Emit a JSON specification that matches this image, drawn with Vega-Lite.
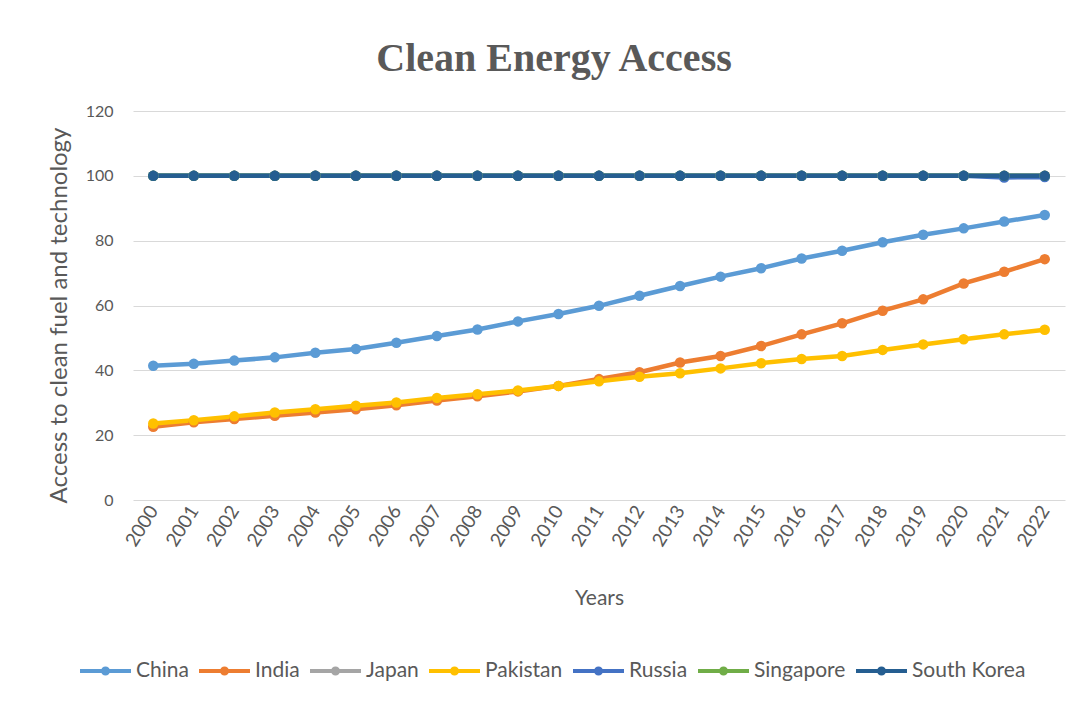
{
  "$schema": "https://vega.github.io/schema/vega-lite/v6.json",
  "width": 932,
  "height": 389,
  "autosize": {"type": "none"},
  "padding": {"left": 133, "top": 111, "right": 27, "bottom": 204},
  "background": "white",
  "title": {"text": "Clean Energy Access", "font": "Liberation Serif", "fontSize": 40, "fontWeight": "bold", "color": "#595959", "anchor": "middle", "dx": -45, "offset": 24},
  "datasets": {
    "d": [
      {"year": "2000", "country": "China", "value": 41.4}, {"year": "2001", "country": "China", "value": 42}, {"year": "2002", "country": "China", "value": 43}, {"year": "2003", "country": "China", "value": 44}, {"year": "2004", "country": "China", "value": 45.4}, {"year": "2005", "country": "China", "value": 46.6}, {"year": "2006", "country": "China", "value": 48.5}, {"year": "2007", "country": "China", "value": 50.6}, {"year": "2008", "country": "China", "value": 52.6}, {"year": "2009", "country": "China", "value": 55.1}, {"year": "2010", "country": "China", "value": 57.4}, {"year": "2011", "country": "China", "value": 59.9}, {"year": "2012", "country": "China", "value": 63}, {"year": "2013", "country": "China", "value": 66}, {"year": "2014", "country": "China", "value": 68.9}, {"year": "2015", "country": "China", "value": 71.5}, {"year": "2016", "country": "China", "value": 74.5}, {"year": "2017", "country": "China", "value": 76.9}, {"year": "2018", "country": "China", "value": 79.5}, {"year": "2019", "country": "China", "value": 81.8}, {"year": "2020", "country": "China", "value": 83.8}, {"year": "2021", "country": "China", "value": 85.9}, {"year": "2022", "country": "China", "value": 87.9},
      {"year": "2000", "country": "India", "value": 22.6}, {"year": "2001", "country": "India", "value": 24}, {"year": "2002", "country": "India", "value": 25}, {"year": "2003", "country": "India", "value": 26}, {"year": "2004", "country": "India", "value": 27}, {"year": "2005", "country": "India", "value": 28}, {"year": "2006", "country": "India", "value": 29.2}, {"year": "2007", "country": "India", "value": 30.7}, {"year": "2008", "country": "India", "value": 32}, {"year": "2009", "country": "India", "value": 33.5}, {"year": "2010", "country": "India", "value": 35.2}, {"year": "2011", "country": "India", "value": 37.3}, {"year": "2012", "country": "India", "value": 39.4}, {"year": "2013", "country": "India", "value": 42.4}, {"year": "2014", "country": "India", "value": 44.4}, {"year": "2015", "country": "India", "value": 47.5}, {"year": "2016", "country": "India", "value": 51.1}, {"year": "2017", "country": "India", "value": 54.5}, {"year": "2018", "country": "India", "value": 58.4}, {"year": "2019", "country": "India", "value": 61.9}, {"year": "2020", "country": "India", "value": 66.8}, {"year": "2021", "country": "India", "value": 70.4}, {"year": "2022", "country": "India", "value": 74.3},
      {"year": "2000", "country": "Japan", "value": 100}, {"year": "2001", "country": "Japan", "value": 100}, {"year": "2002", "country": "Japan", "value": 100}, {"year": "2003", "country": "Japan", "value": 100}, {"year": "2004", "country": "Japan", "value": 100}, {"year": "2005", "country": "Japan", "value": 100}, {"year": "2006", "country": "Japan", "value": 100}, {"year": "2007", "country": "Japan", "value": 100}, {"year": "2008", "country": "Japan", "value": 100}, {"year": "2009", "country": "Japan", "value": 100}, {"year": "2010", "country": "Japan", "value": 100}, {"year": "2011", "country": "Japan", "value": 100}, {"year": "2012", "country": "Japan", "value": 100}, {"year": "2013", "country": "Japan", "value": 100}, {"year": "2014", "country": "Japan", "value": 100}, {"year": "2015", "country": "Japan", "value": 100}, {"year": "2016", "country": "Japan", "value": 100}, {"year": "2017", "country": "Japan", "value": 100}, {"year": "2018", "country": "Japan", "value": 100}, {"year": "2019", "country": "Japan", "value": 100}, {"year": "2020", "country": "Japan", "value": 100}, {"year": "2021", "country": "Japan", "value": 100}, {"year": "2022", "country": "Japan", "value": 100},
      {"year": "2000", "country": "Pakistan", "value": 23.6}, {"year": "2001", "country": "Pakistan", "value": 24.6}, {"year": "2002", "country": "Pakistan", "value": 25.8}, {"year": "2003", "country": "Pakistan", "value": 27}, {"year": "2004", "country": "Pakistan", "value": 28}, {"year": "2005", "country": "Pakistan", "value": 29.1}, {"year": "2006", "country": "Pakistan", "value": 30.1}, {"year": "2007", "country": "Pakistan", "value": 31.5}, {"year": "2008", "country": "Pakistan", "value": 32.6}, {"year": "2009", "country": "Pakistan", "value": 33.8}, {"year": "2010", "country": "Pakistan", "value": 35.2}, {"year": "2011", "country": "Pakistan", "value": 36.6}, {"year": "2012", "country": "Pakistan", "value": 38}, {"year": "2013", "country": "Pakistan", "value": 39.1}, {"year": "2014", "country": "Pakistan", "value": 40.6}, {"year": "2015", "country": "Pakistan", "value": 42.2}, {"year": "2016", "country": "Pakistan", "value": 43.5}, {"year": "2017", "country": "Pakistan", "value": 44.4}, {"year": "2018", "country": "Pakistan", "value": 46.3}, {"year": "2019", "country": "Pakistan", "value": 48}, {"year": "2020", "country": "Pakistan", "value": 49.6}, {"year": "2021", "country": "Pakistan", "value": 51.1}, {"year": "2022", "country": "Pakistan", "value": 52.5},
      {"year": "2000", "country": "Russia", "value": 100}, {"year": "2001", "country": "Russia", "value": 100}, {"year": "2002", "country": "Russia", "value": 100}, {"year": "2003", "country": "Russia", "value": 100}, {"year": "2004", "country": "Russia", "value": 100}, {"year": "2005", "country": "Russia", "value": 100}, {"year": "2006", "country": "Russia", "value": 100}, {"year": "2007", "country": "Russia", "value": 100}, {"year": "2008", "country": "Russia", "value": 100}, {"year": "2009", "country": "Russia", "value": 100}, {"year": "2010", "country": "Russia", "value": 100}, {"year": "2011", "country": "Russia", "value": 100}, {"year": "2012", "country": "Russia", "value": 100}, {"year": "2013", "country": "Russia", "value": 100}, {"year": "2014", "country": "Russia", "value": 100}, {"year": "2015", "country": "Russia", "value": 100}, {"year": "2016", "country": "Russia", "value": 100}, {"year": "2017", "country": "Russia", "value": 100}, {"year": "2018", "country": "Russia", "value": 100}, {"year": "2019", "country": "Russia", "value": 100}, {"year": "2020", "country": "Russia", "value": 100}, {"year": "2021", "country": "Russia", "value": 99.5}, {"year": "2022", "country": "Russia", "value": 99.6},
      {"year": "2000", "country": "Singapore", "value": 100}, {"year": "2001", "country": "Singapore", "value": 100}, {"year": "2002", "country": "Singapore", "value": 100}, {"year": "2003", "country": "Singapore", "value": 100}, {"year": "2004", "country": "Singapore", "value": 100}, {"year": "2005", "country": "Singapore", "value": 100}, {"year": "2006", "country": "Singapore", "value": 100}, {"year": "2007", "country": "Singapore", "value": 100}, {"year": "2008", "country": "Singapore", "value": 100}, {"year": "2009", "country": "Singapore", "value": 100}, {"year": "2010", "country": "Singapore", "value": 100}, {"year": "2011", "country": "Singapore", "value": 100}, {"year": "2012", "country": "Singapore", "value": 100}, {"year": "2013", "country": "Singapore", "value": 100}, {"year": "2014", "country": "Singapore", "value": 100}, {"year": "2015", "country": "Singapore", "value": 100}, {"year": "2016", "country": "Singapore", "value": 100}, {"year": "2017", "country": "Singapore", "value": 100}, {"year": "2018", "country": "Singapore", "value": 100}, {"year": "2019", "country": "Singapore", "value": 100}, {"year": "2020", "country": "Singapore", "value": 100}, {"year": "2021", "country": "Singapore", "value": 100}, {"year": "2022", "country": "Singapore", "value": 100},
      {"year": "2000", "country": "South Korea", "value": 100}, {"year": "2001", "country": "South Korea", "value": 100}, {"year": "2002", "country": "South Korea", "value": 100}, {"year": "2003", "country": "South Korea", "value": 100}, {"year": "2004", "country": "South Korea", "value": 100}, {"year": "2005", "country": "South Korea", "value": 100}, {"year": "2006", "country": "South Korea", "value": 100}, {"year": "2007", "country": "South Korea", "value": 100}, {"year": "2008", "country": "South Korea", "value": 100}, {"year": "2009", "country": "South Korea", "value": 100}, {"year": "2010", "country": "South Korea", "value": 100}, {"year": "2011", "country": "South Korea", "value": 100}, {"year": "2012", "country": "South Korea", "value": 100}, {"year": "2013", "country": "South Korea", "value": 100}, {"year": "2014", "country": "South Korea", "value": 100}, {"year": "2015", "country": "South Korea", "value": 100}, {"year": "2016", "country": "South Korea", "value": 100}, {"year": "2017", "country": "South Korea", "value": 100}, {"year": "2018", "country": "South Korea", "value": 100}, {"year": "2019", "country": "South Korea", "value": 100}, {"year": "2020", "country": "South Korea", "value": 100}, {"year": "2021", "country": "South Korea", "value": 100}, {"year": "2022", "country": "South Korea", "value": 100}
    ]
  },
  "data": {"name": "d"},
  "mark": {"type": "line", "strokeWidth": 4.5, "point": {"size": 110, "filled": true, "opacity": 1}},
  "encoding": {
    "x": {
      "field": "year", "type": "ordinal",
      "scale": {"type": "point", "padding": 0.5},
      "axis": {"title": "Years", "titleFont": "Lato", "titleFontSize": 21, "titleFontWeight": "normal", "titleColor": "#595959", "titlePadding": 38,
               "labelFont": "Lato", "labelFontSize": 19, "labelColor": "#595959", "labelAngle": -58, "labelPadding": 7,
               "ticks": false, "domain": false, "grid": false}
    },
    "y": {
      "field": "value", "type": "quantitative",
      "scale": {"domain": [0, 120]},
      "axis": {"values": [0, 20, 40, 60, 80, 100, 120], "title": "Access to clean fuel and technology", "titleFont": "Lato", "titleFontSize": 24, "titleFontWeight": "normal", "titleColor": "#595959", "titlePadding": 14, "titleY": 204,
               "labelFont": "Lato", "labelFontSize": 16, "labelColor": "#595959", "labelPadding": 20,
               "ticks": false, "domain": false, "gridColor": "#D9D9D9", "gridWidth": 1}
    },
    "color": {
      "field": "country", "type": "nominal",
      "scale": {"domain": ["China", "India", "Japan", "Pakistan", "Russia", "Singapore", "South Korea"],
                "range": ["#5B9BD5", "#ED7D31", "#A5A5A5", "#FFC000", "#4472C4", "#70AD47", "#255E91"]},
      "legend": {"orient": "none", "legendX": -55, "legendY": 532, "direction": "horizontal", "title": null,
                 "symbolType": "M-1,0L1,0M-0.1,0A0.1,0.1,0,1,1,0.1,0A0.1,0.1,0,1,1,-0.1,0", "symbolSize": 2601, "symbolStrokeWidth": 4,
                 "labelFont": "Lato", "labelFontSize": 21, "labelColor": "#595959", "labelOffset": 3, "columnPadding": 2}
    }
  },
  "config": {"view": {"stroke": null}}
}
